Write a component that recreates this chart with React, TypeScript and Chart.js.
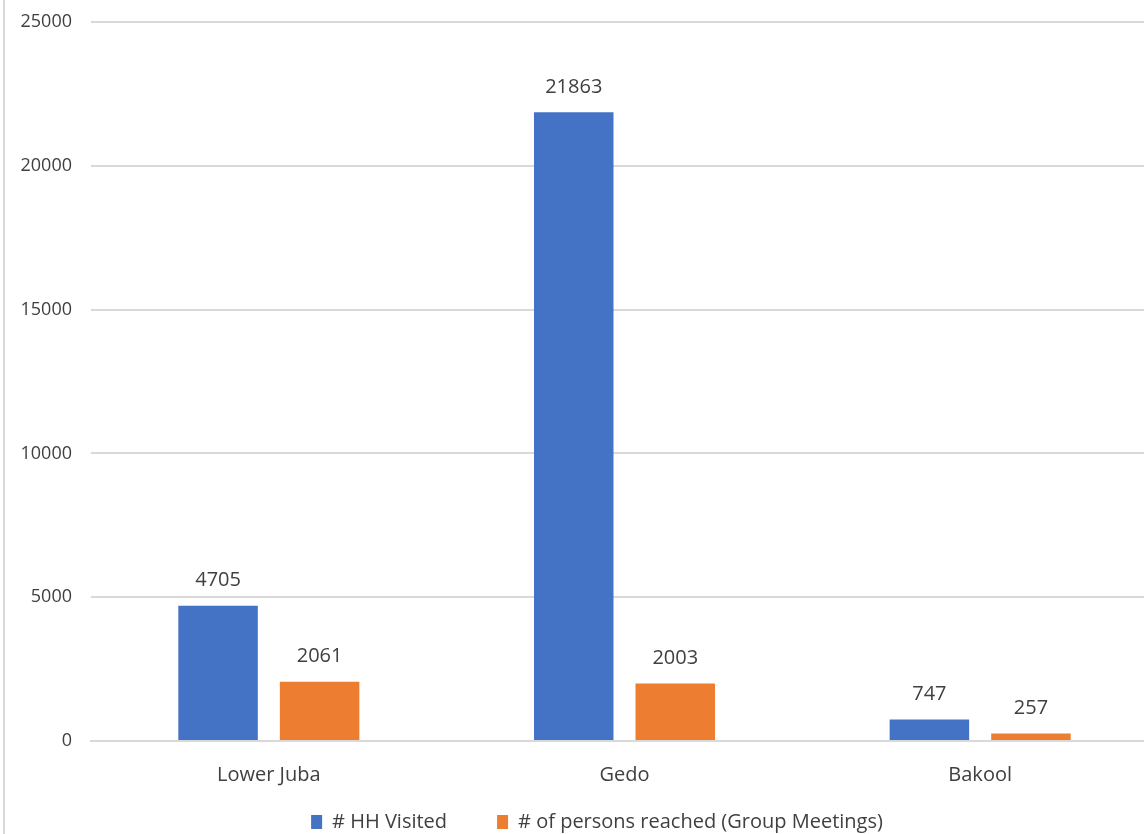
import React, { useEffect, useRef } from "react";
import { Chart, registerables } from "chart.js";

Chart.register(...registerables);

const categories = ["Lower Juba", "Gedo", "Bakool"];
const hhVisited = [4705, 21863, 747];
const personsReached = [2061, 2003, 257];
const seriesNames = ["# HH Visited", "# of persons reached (Group Meetings)"];
const yTicks = [0, 5000, 10000, 15000, 20000, 25000];

const FONT = "'Open Sans', 'Noto Sans', sans-serif";
const TEXT = "#404040";
const GRID = "#d9d9d9";
const W = 1172;
const H = 842;
const PLOT_TOP = 22;
const PLOT_BOTTOM = 741;
const LEFT_PAD = 36;
const PLOT_LEFT = 91;
const RIGHT_EDGE = 1158;
const YLABEL_RIGHT = 72;
const XLABEL_CENTER = 775;
const LEGEND_PAD = 50;
const LEGEND_FONT = 20;

const dataLabels = {
  id: "dataLabels",
  afterDatasetsDraw(chart: any) {
    const ctx = chart.ctx;
    ctx.save();
    ctx.font = `20px ${FONT}`;
    ctx.fillStyle = TEXT;
    ctx.textAlign = "center";
    ctx.textBaseline = "middle";
    chart.data.datasets.forEach((ds: any, i: number) => {
      const meta = chart.getDatasetMeta(i);
      meta.data.forEach((el: any, j: number) => {
        ctx.fillText(String(ds.data[j]), el.x, el.y - 25);
      });
    });
    ctx.restore();
  },
};

export default function App() {
  const ref = useRef<HTMLCanvasElement | null>(null);
  useEffect(() => {
    if (!ref.current) return;
    const m = document.createElement("canvas").getContext("2d")!;
    m.font = `18px ${FONT}`;
    const widest = Math.max(...yTicks.map((v) => m.measureText(String(v)).width));
    const legendH = LEGEND_FONT + LEGEND_PAD + 10;
    const xH = H - legendH - PLOT_BOTTOM;
    const chart = new Chart(ref.current, {
      type: "bar",
      data: {
        labels: categories,
        datasets: [
          { label: seriesNames[0], data: hhVisited, backgroundColor: "#4472C4" },
          { label: seriesNames[1], data: personsReached, backgroundColor: "#ED7D31" },
        ],
      },
      options: {
        animation: false,
        responsive: false,
        devicePixelRatio: 1,
        layout: { padding: { top: PLOT_TOP, right: W - RIGHT_EDGE, left: LEFT_PAD, bottom: 0 } },
        datasets: { bar: { categoryPercentage: 0.571, barPercentage: 0.783 } },
        scales: {
          x: {
            afterFit: (s: any) => { s.height = xH; },
            grid: { display: false, drawTicks: false },
            border: { color: GRID, width: 2 },
            ticks: {
              color: TEXT,
              font: { family: FONT, size: 20 },
              mirror: true,
              padding: -(XLABEL_CENTER - PLOT_BOTTOM + 12),
            },
          },
          y: {
            min: 0,
            max: 25000,
            afterFit: (s: any) => { s.width = PLOT_LEFT - LEFT_PAD; s.paddingTop = 0; s.paddingBottom = 0; },
            afterBuildTicks: (s: any) => { s.ticks = yTicks.map((v) => ({ value: v })); },
            grid: { color: GRID, lineWidth: 2, drawTicks: false },
            border: { display: false },
            ticks: {
              color: TEXT,
              font: { family: FONT, size: 18 },
              mirror: true,
              crossAlign: "far",
              padding: YLABEL_RIGHT - PLOT_LEFT - widest,
              callback: (v: any) => String(v),
            },
          },
        },
        plugins: {
          legend: {
            position: "bottom",
            labels: {
              color: TEXT,
              font: { family: FONT, size: LEGEND_FONT },
              boxWidth: 11,
              boxHeight: 14,
              padding: LEGEND_PAD,
            },
          },
          tooltip: { enabled: false },
        },
      },
      plugins: [dataLabels],
    });
    return () => chart.destroy();
  }, []);
  return (
    <div style={{ position: "fixed", left: 0, top: 0, width: 1144, height: 834, overflow: "hidden", background: "#fff" }}>
      <canvas ref={ref} width={W} height={H} style={{ position: "absolute", left: 0, top: 0, width: W, height: H }} />
      <div style={{ position: "absolute", left: 3, top: 0, width: 2, height: 834, background: GRID }} />
    </div>
  );
}
